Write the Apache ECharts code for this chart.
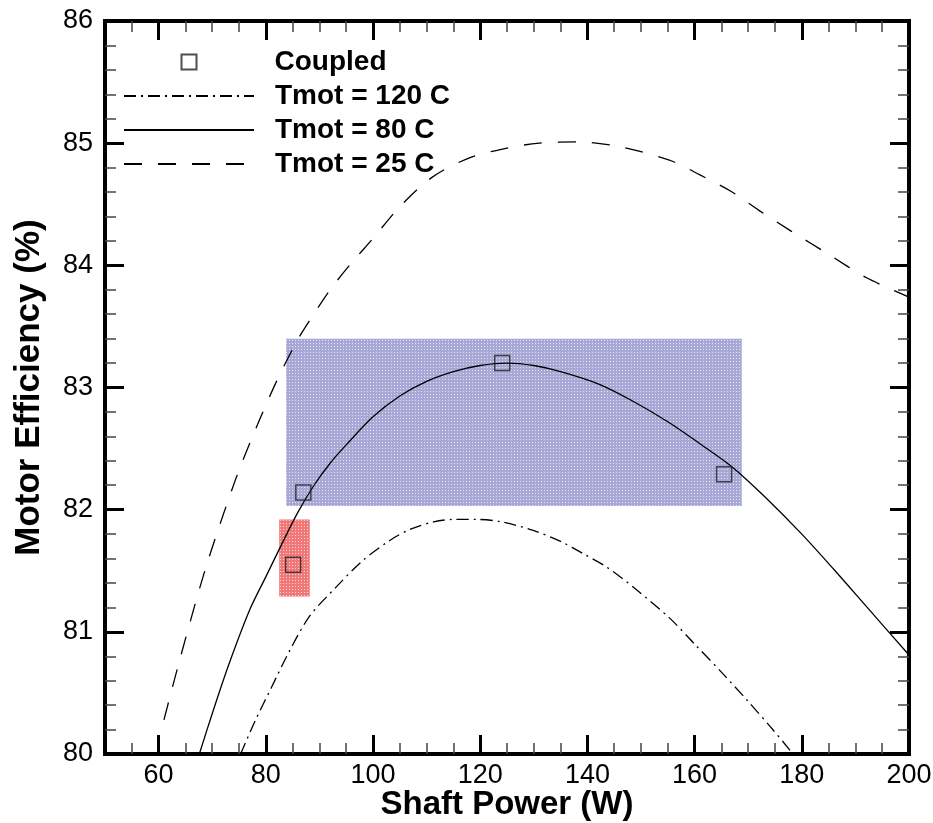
<!DOCTYPE html>
<html><head><meta charset="utf-8">
<script src="https://cdn.jsdelivr.net/npm/echarts@6/dist/echarts.min.js"></script>
<style>html,body{margin:0;padding:0;background:#fff}#c{width:933px;height:823px}</style>
</head><body><div id="c"></div>
<script>
// ---- data ----
const coupledX = [87.0, 124.1, 165.5, 85.1];
const coupledY = [82.14, 83.20, 82.29, 81.55];

const t120X = [75.3, 78, 81, 84.5, 88.2, 93.2, 98, 103.2, 107, 111.3, 115, 119.4, 124, 129.9, 135, 139.2, 143.6, 149, 155.4, 160, 165, 170, 174, 178, 179];
const t120Y = [80.0, 80.27, 80.54, 80.85, 81.13, 81.37, 81.58, 81.75, 81.84, 81.90, 81.92, 81.92, 81.90, 81.83, 81.74, 81.64, 81.53, 81.35, 81.11, 80.90, 80.67, 80.43, 80.23, 80.02, 79.96];

const t80X = [67.6, 70, 73, 77, 80, 83, 86, 89, 92, 95, 100, 105, 110, 115, 120, 125, 130, 135, 142, 148, 155, 161, 167, 173, 180, 186, 192, 200];
const t80Y = [80.0, 80.33, 80.72, 81.18, 81.45, 81.72, 81.98, 82.2, 82.38, 82.53, 82.76, 82.93, 83.05, 83.13, 83.18, 83.20, 83.18, 83.13, 83.03, 82.90, 82.72, 82.54, 82.35, 82.11, 81.80, 81.51, 81.21, 80.81];

const t25X = [61.0, 64, 68.7, 74.3, 78.3, 82, 85.8, 88.2, 92, 96, 100, 105, 111, 118, 125, 131, 138.6, 145, 150, 156, 161, 167, 172, 178, 185, 192, 200];
const t25Y = [80.28, 80.78, 81.51, 82.24, 82.68, 83.05, 83.38, 83.55, 83.80, 84.02, 84.22, 84.48, 84.72, 84.88, 84.96, 85.00, 85.01, 84.98, 84.93, 84.85, 84.74, 84.60, 84.45, 84.28, 84.09, 83.90, 83.74];

const blueBoxX = [83.8, 168.8];
const blueBoxY = [82.03, 83.40];
const redBoxX = [82.5, 88.2];
const redBoxY = [81.29, 81.92];

const xMajorLabels = [60, 80, 100, 120, 140, 160, 180, 200];

// ---- helpers ----
function zip(xs, ys) { return xs.map((x, i) => [x, ys[i]]); }
function stipple(base, dot) {
  const c = document.createElement('canvas');
  c.width = 3; c.height = 3;
  const g = c.getContext('2d');
  g.fillStyle = base; g.fillRect(0, 0, 3, 3);
  g.fillStyle = dot; g.fillRect(1, 1, 1, 1);
  return { image: c, repeat: 'repeat' };
}

const FONT = '"Liberation Sans", Arial, Helvetica, sans-serif';
const majorTick = { show: true, inside: true, length: 19, lineStyle: { color: '#000', width: 3 } };
const minorTickAxis = { show: true, inside: true, length: 11, lineStyle: { color: '#444', width: 1.5 } };

function xAxisMajor(pos, labels) {
  return {
    type: 'value', position: pos, min: 50, max: 200, splitNumber: 7,
    axisLine: { show: false, onZero: false },
    axisTick: majorTick,
    splitLine: { show: false },
    axisLabel: labels ? {
      show: true, margin: 8, fontSize: 27, color: '#000', fontFamily: FONT,
      formatter: v => (xMajorLabels.indexOf(v) >= 0 ? String(v) : '')
    } : { show: false },
    name: labels ? 'Shaft Power (W)' : '',
    nameLocation: 'middle', nameGap: 34, nameMoveOverlap: false,
    nameTextStyle: { fontSize: 33, fontWeight: 'bold', color: '#000', fontFamily: FONT }
  };
}
function xAxisMinor(pos) {
  return {
    type: 'value', position: pos, min: 50, max: 200, interval: 5,
    axisLine: { show: false, onZero: false },
    axisTick: minorTickAxis,
    splitLine: { show: false },
    axisLabel: { show: false }
  };
}
function yAxis(pos, labels) {
  return {
    type: 'value', position: pos, min: 80, max: 86, interval: 1,
    axisLine: { show: false, onZero: false },
    axisTick: majorTick,
    minorTick: { show: true, splitNumber: 5, length: 11, lineStyle: { color: '#444', width: 1.5 } },
    splitLine: { show: false }, minorSplitLine: { show: false },
    axisLabel: labels ? { show: true, margin: 12, fontSize: 27, color: '#000', fontFamily: FONT } : { show: false },
    name: labels ? 'Motor Efficiency (%)' : '',
    nameLocation: 'middle', nameGap: 58, nameMoveOverlap: false,
    nameTextStyle: { fontSize: 35, fontWeight: 'bold', color: '#000', fontFamily: FONT }
  };
}

const legendText = { fontSize: 28, fontWeight: 'bold', color: '#000', fontFamily: FONT };

const chart = echarts.init(document.getElementById('c'), null, { renderer: 'canvas' });
chart.setOption({
  backgroundColor: '#fff',
  animation: false,
  grid: { left: 105, right: 24, top: 21, bottom: 69, show: true, borderColor: '#000', borderWidth: 4, backgroundColor: 'transparent', containLabel: false, outerBoundsMode: 'none' },
  xAxis: [xAxisMinor('bottom'), xAxisMajor('bottom', true), xAxisMinor('top'), xAxisMajor('top', false)],
  yAxis: [yAxis('left', true), yAxis('right', false)],
  legend: [
    {
      orient: 'vertical', left: 180.5, top: 48, padding: 0, itemWidth: 15, itemHeight: 15,
      selectedMode: false,
      textStyle: Object.assign({}, legendText, { padding: [0, 0, 0, 73] }),
      data: ['Coupled']
    },
    {
      orient: 'vertical', left: 123, top: 82, padding: 0, itemWidth: 130, itemHeight: 15, itemGap: 6,
      selectedMode: false,
      itemStyle: { opacity: 0 },
      textStyle: Object.assign({}, legendText, { padding: [0, 0, 0, 16] }),
      data: ['Tmot = 120 C', 'Tmot = 80 C', 'Tmot = 25 C']
    }
  ],
  series: [
    {
      name: 'boxes', type: 'line', data: [], xAxisIndex: 0, yAxisIndex: 0, z: 1, silent: true,
      markArea: {
        silent: true,
        data: [
          [{ xAxis: blueBoxX[0], yAxis: blueBoxY[1], itemStyle: { color: stipple('rgb(168,168,214)', 'rgb(228,228,246)') } },
           { xAxis: blueBoxX[1], yAxis: blueBoxY[0] }],
          [{ xAxis: redBoxX[0], yAxis: redBoxY[1], itemStyle: { color: stipple('rgb(240,120,120)', 'rgb(255,210,210)') } },
           { xAxis: redBoxX[1], yAxis: redBoxY[0] }]
        ]
      }
    },
    {
      name: 'Tmot = 120 C', type: 'line', xAxisIndex: 0, yAxisIndex: 0, z: 3, smooth: 0.3, symbol: 'none',
      data: zip(t120X, t120Y), lineStyle: { color: '#000', width: 1.3, type: [12, 5, 2, 5] }, itemStyle: { color: '#000' }
    },
    {
      name: 'Tmot = 80 C', type: 'line', xAxisIndex: 0, yAxisIndex: 0, z: 3, smooth: 0.3, symbol: 'none',
      data: zip(t80X, t80Y), lineStyle: { color: '#000', width: 1.3, type: 'solid' }, itemStyle: { color: '#000' }
    },
    {
      name: 'Tmot = 25 C', type: 'line', xAxisIndex: 0, yAxisIndex: 0, z: 3, smooth: 0.3, symbol: 'none',
      data: zip(t25X, t25Y), lineStyle: { color: '#000', width: 1.3, type: [18, 16] }, itemStyle: { color: '#000' }
    },
    {
      name: 'Coupled', type: 'scatter', xAxisIndex: 0, yAxisIndex: 0, z: 4, symbol: 'rect', symbolSize: 15,
      data: zip(coupledX, coupledY),
      itemStyle: { color: 'rgba(0,0,0,0)', borderColor: '#222', borderWidth: 1.5 }
    }
  ]
});
</script></body></html>
